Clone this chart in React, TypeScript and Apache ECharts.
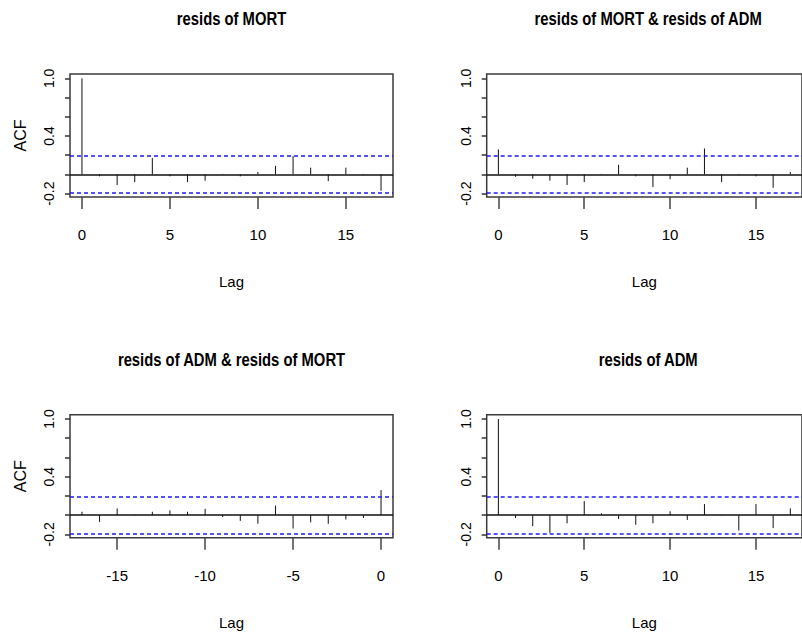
import React, { useEffect, useRef } from "react";
import * as echarts from "echarts";

const LAGS_POS = [0, 1, 2, 3, 4, 5, 6, 7, 8, 9, 10, 11, 12, 13, 14, 15, 16, 17];
const LAGS_NEG = [-17, -16, -15, -14, -13, -12, -11, -10, -9, -8, -7, -6, -5, -4, -3, -2, -1, 0];

const MORT_ACF = [1.0, -0.02, -0.11, -0.08, 0.17, -0.02, -0.08, -0.065, 0.005, -0.02, 0.025, 0.09, 0.19, 0.07, -0.07, 0.07, 0.005, -0.17];
const MORT_ADM_CCF = [0.26, -0.025, -0.045, -0.065, -0.11, -0.08, 0.005, 0.1, -0.02, -0.13, -0.05, 0.07, 0.27, -0.08, 0.005, -0.02, -0.14, 0.025];
const ADM_MORT_CCF = [0.035, -0.07, 0.07, 0.005, 0.035, 0.05, 0.035, 0.065, -0.02, -0.06, -0.09, 0.1, -0.14, -0.075, -0.09, -0.045, -0.03, 0.26];
const ADM_ACF = [1.0, -0.03, -0.115, -0.185, -0.085, 0.145, 0.02, -0.04, -0.1, -0.085, 0.04, -0.05, 0.115, -0.005, -0.16, 0.115, -0.135, 0.07];

const CONF_LIMIT = 0.186;
const Y_TICKS = [-0.2, 0, 0.2, 0.4, 0.6, 0.8, 1.0];
const Y_TICK_LABELS = [-0.2, 0.4, 1.0];
const X_TICKS_POS = [0, 5, 10, 15];
const X_TICKS_NEG = [-15, -10, -5, 0];
const TITLES = ["resids of MORT", "resids of MORT & resids of ADM", "resids of ADM & resids of MORT", "resids of ADM"];

const REGULAR = "'Liberation Sans', Arial, sans-serif";

export default function App() {
  const ref = useRef<HTMLDivElement>(null);

  useEffect(() => {
    if (!ref.current) return;
    const chart = echarts.init(ref.current, null, { renderer: "svg" });

    const panels = [
      { title: TITLES[0], lags: LAGS_POS, vals: MORT_ACF, left: 70, top: 74, acf: true, ticks: X_TICKS_POS, min: -0.68, max: 17.68 },
      { title: TITLES[1], lags: LAGS_POS, vals: MORT_ADM_CCF, left: 486.7, top: 74, acf: false, ticks: X_TICKS_POS, min: -0.68, max: 17.68 },
      { title: TITLES[2], lags: LAGS_NEG, vals: ADM_MORT_CCF, left: 70, top: 414.7, acf: true, ticks: X_TICKS_NEG, min: -17.68, max: 0.68 },
      { title: TITLES[3], lags: LAGS_POS, vals: ADM_ACF, left: 486.7, top: 414.7, acf: false, ticks: X_TICKS_POS, min: -0.68, max: 17.68 },
    ];
    const W = 323;
    const H = 123;

    const option: any = {
      animation: false,
      backgroundColor: "#ffffff",
      graphic: panels.map((p) => ({
        type: "text",
        x: p.left + W / 2,
        y: p.top - 55,
        scaleX: 0.78,
        silent: true,
        style: {
          text: p.title,
          fontFamily: REGULAR,
          fontWeight: "bold",
          fontSize: 19,
          fill: "#000",
          textAlign: "center",
          textVerticalAlign: "middle",
        },
      })),
      grid: panels.map((p) => ({
        left: p.left,
        top: p.top,
        width: W,
        height: H,
        show: true,
        borderColor: "#3a3a3a",
        borderWidth: 1.5,
        backgroundColor: "transparent",
      })),
      xAxis: panels.map((p, i) => ({
        type: "value",
        gridIndex: i,
        min: p.min,
        max: p.max,
        name: "Lag",
        nameLocation: "middle",
        nameGap: 77,
        nameTextStyle: { fontFamily: REGULAR, fontSize: 15, color: "#000" },
        axisLine: { show: false, onZero: false },
        splitLine: { show: false },
        axisTick: { show: true, length: 12, customValues: p.ticks, lineStyle: { color: "#444", width: 1.5 } },
        axisLabel: {
          show: true,
          customValues: p.ticks,
          margin: 30,
          fontFamily: REGULAR,
          fontSize: 15,
          color: "#000",
          formatter: (v: number) => String(v),
        },
      })),
      yAxis: panels.map((p, i) => ({
        type: "value",
        gridIndex: i,
        min: -0.235,
        max: 1.045,
        name: p.acf ? "ACF" : "",
        nameLocation: "middle",
        nameGap: 42,
        nameRotate: 90,
        nameTextStyle: { fontFamily: REGULAR, fontSize: 16, color: "#000" },
        axisLine: { show: false, onZero: false },
        splitLine: { show: false },
        axisTick: { show: true, length: 5, customValues: Y_TICKS, lineStyle: { color: "#333", width: 1.5 } },
        axisLabel: {
          show: true,
          customValues: Y_TICK_LABELS,
          rotate: 90,
          margin: 14,
          fontFamily: REGULAR,
          fontSize: 14,
          color: "#000",
          formatter: (v: number) => v.toFixed(1),
        },
      })),
      series: panels.map((p, i) => ({
        type: "custom",
        xAxisIndex: i,
        yAxisIndex: i,
        data: p.lags.map((l, k) => [l, p.vals[k]]),
        renderItem: (params: any, api: any) => {
          const x = api.value(0);
          const y = api.value(1);
          const a = api.coord([x, 0]);
          const b = api.coord([x, y]);
          return {
            type: "line",
            shape: { x1: a[0], y1: a[1], x2: b[0], y2: b[1] },
            style: { stroke: "#111", lineWidth: 1 },
          };
        },
        markLine: {
          silent: true,
          symbol: "none",
          label: { show: false },
          data: [
            { yAxis: 0, lineStyle: { type: "solid", color: "#111", width: 1.5 } },
            { yAxis: CONF_LIMIT, lineStyle: { type: [4, 3], color: "#1a1aff", width: 1.5 } },
            { yAxis: -CONF_LIMIT, lineStyle: { type: [4, 3], color: "#1a1aff", width: 1.5 } },
          ],
        },
      })),
    };

    chart.setOption(option);
    return () => chart.dispose();
  }, []);

  return (
    <div style={{ position: "fixed", left: 0, top: 0, width: 802, height: 637, overflow: "hidden", background: "#fff" }}>
      <div ref={ref} style={{ width: 802, height: 637 }} />
    </div>
  );
}
